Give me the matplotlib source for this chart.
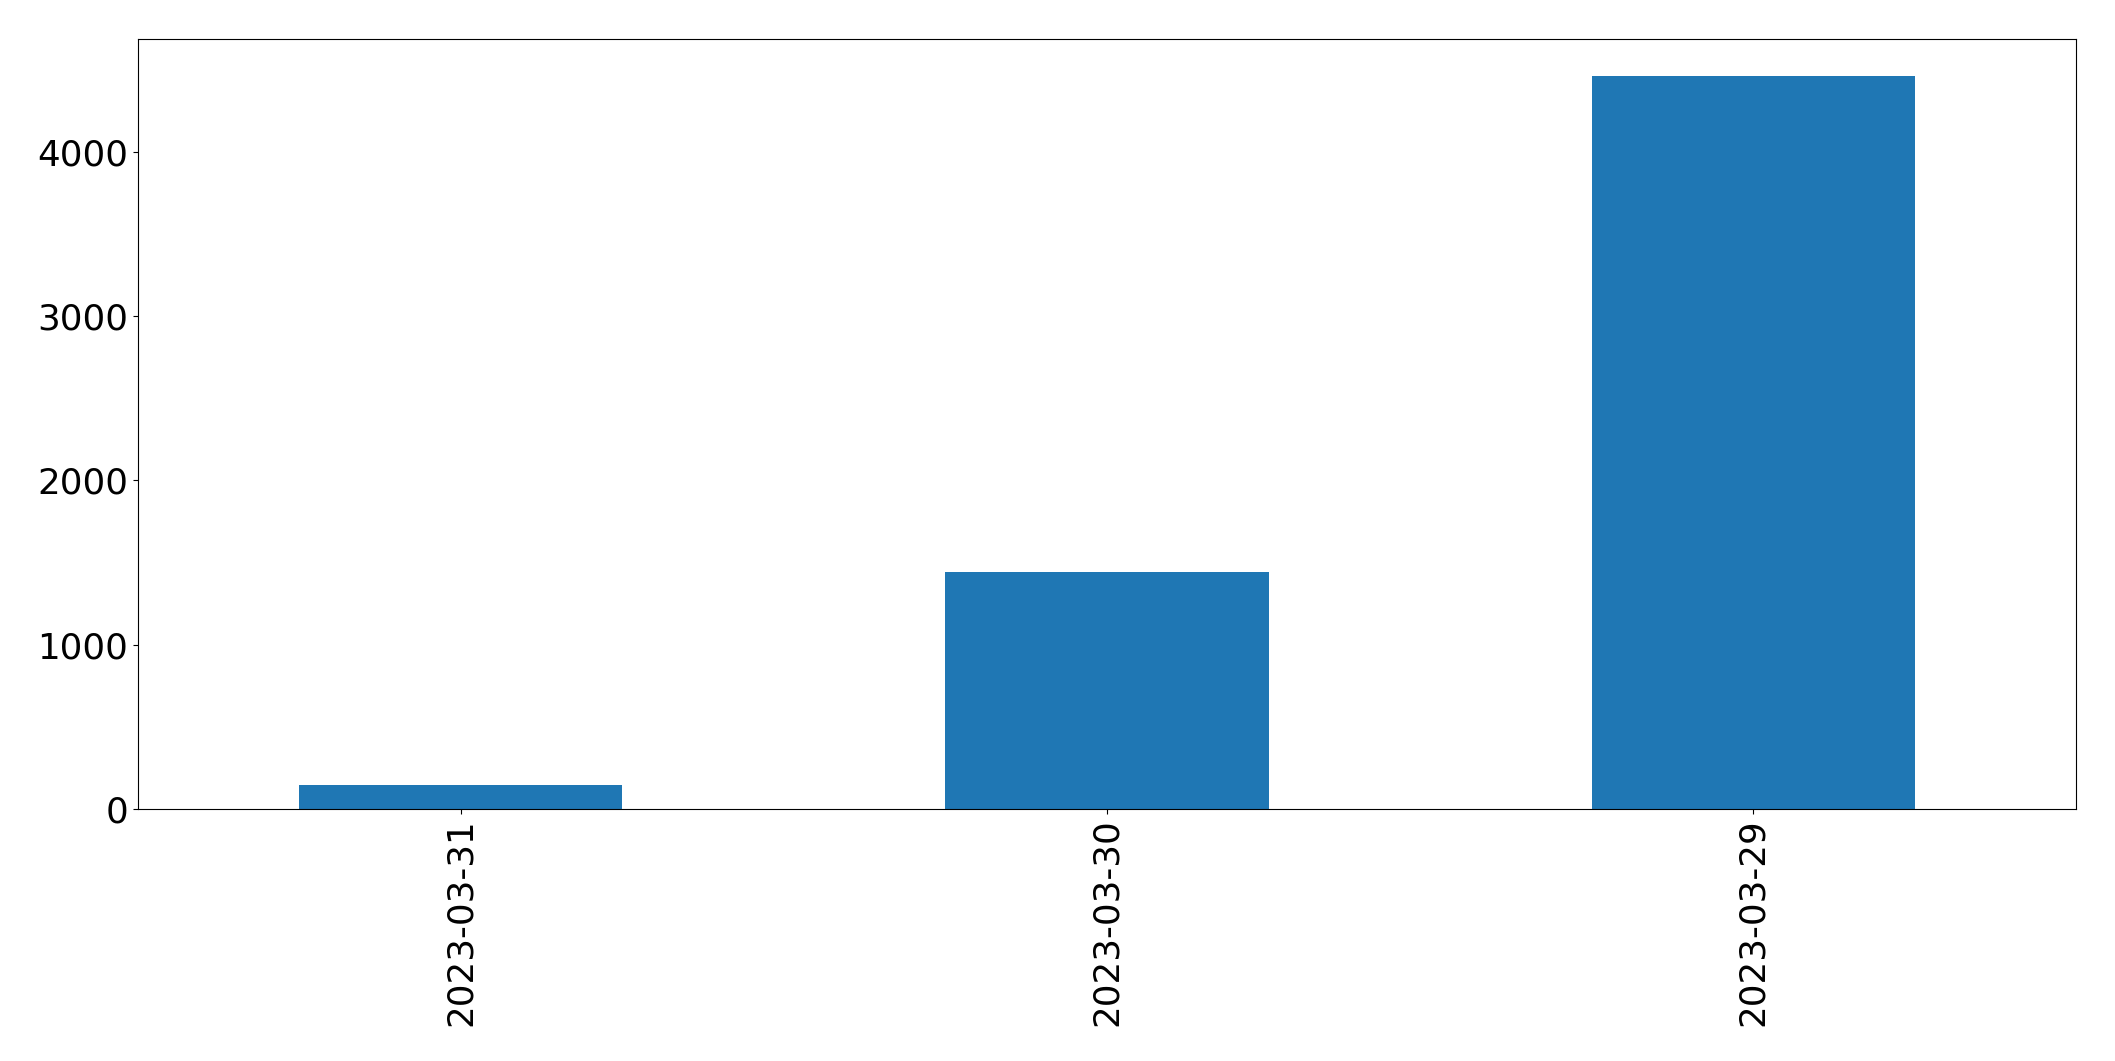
import matplotlib
matplotlib.use("Agg")
import matplotlib.pyplot as plt

categories = ["2023-03-31", "2023-03-30", "2023-03-29"]
values = [146, 1445, 4463]

fig = plt.figure(figsize=(21.15, 10.61), dpi=100)
ax = fig.add_axes([0.0652, 0.2375, 0.9164, 0.7257])
x = list(range(len(categories)))
ax.bar(x, values, width=0.5, color="#1f77b4")
ax.set_xlim(-0.5, len(categories) - 0.5)
ax.set_xticks(x)
ax.set_xticklabels(categories, rotation=90)
ax.tick_params(axis="both", labelsize=25.7)
fig.savefig("out.png", dpi=100)
